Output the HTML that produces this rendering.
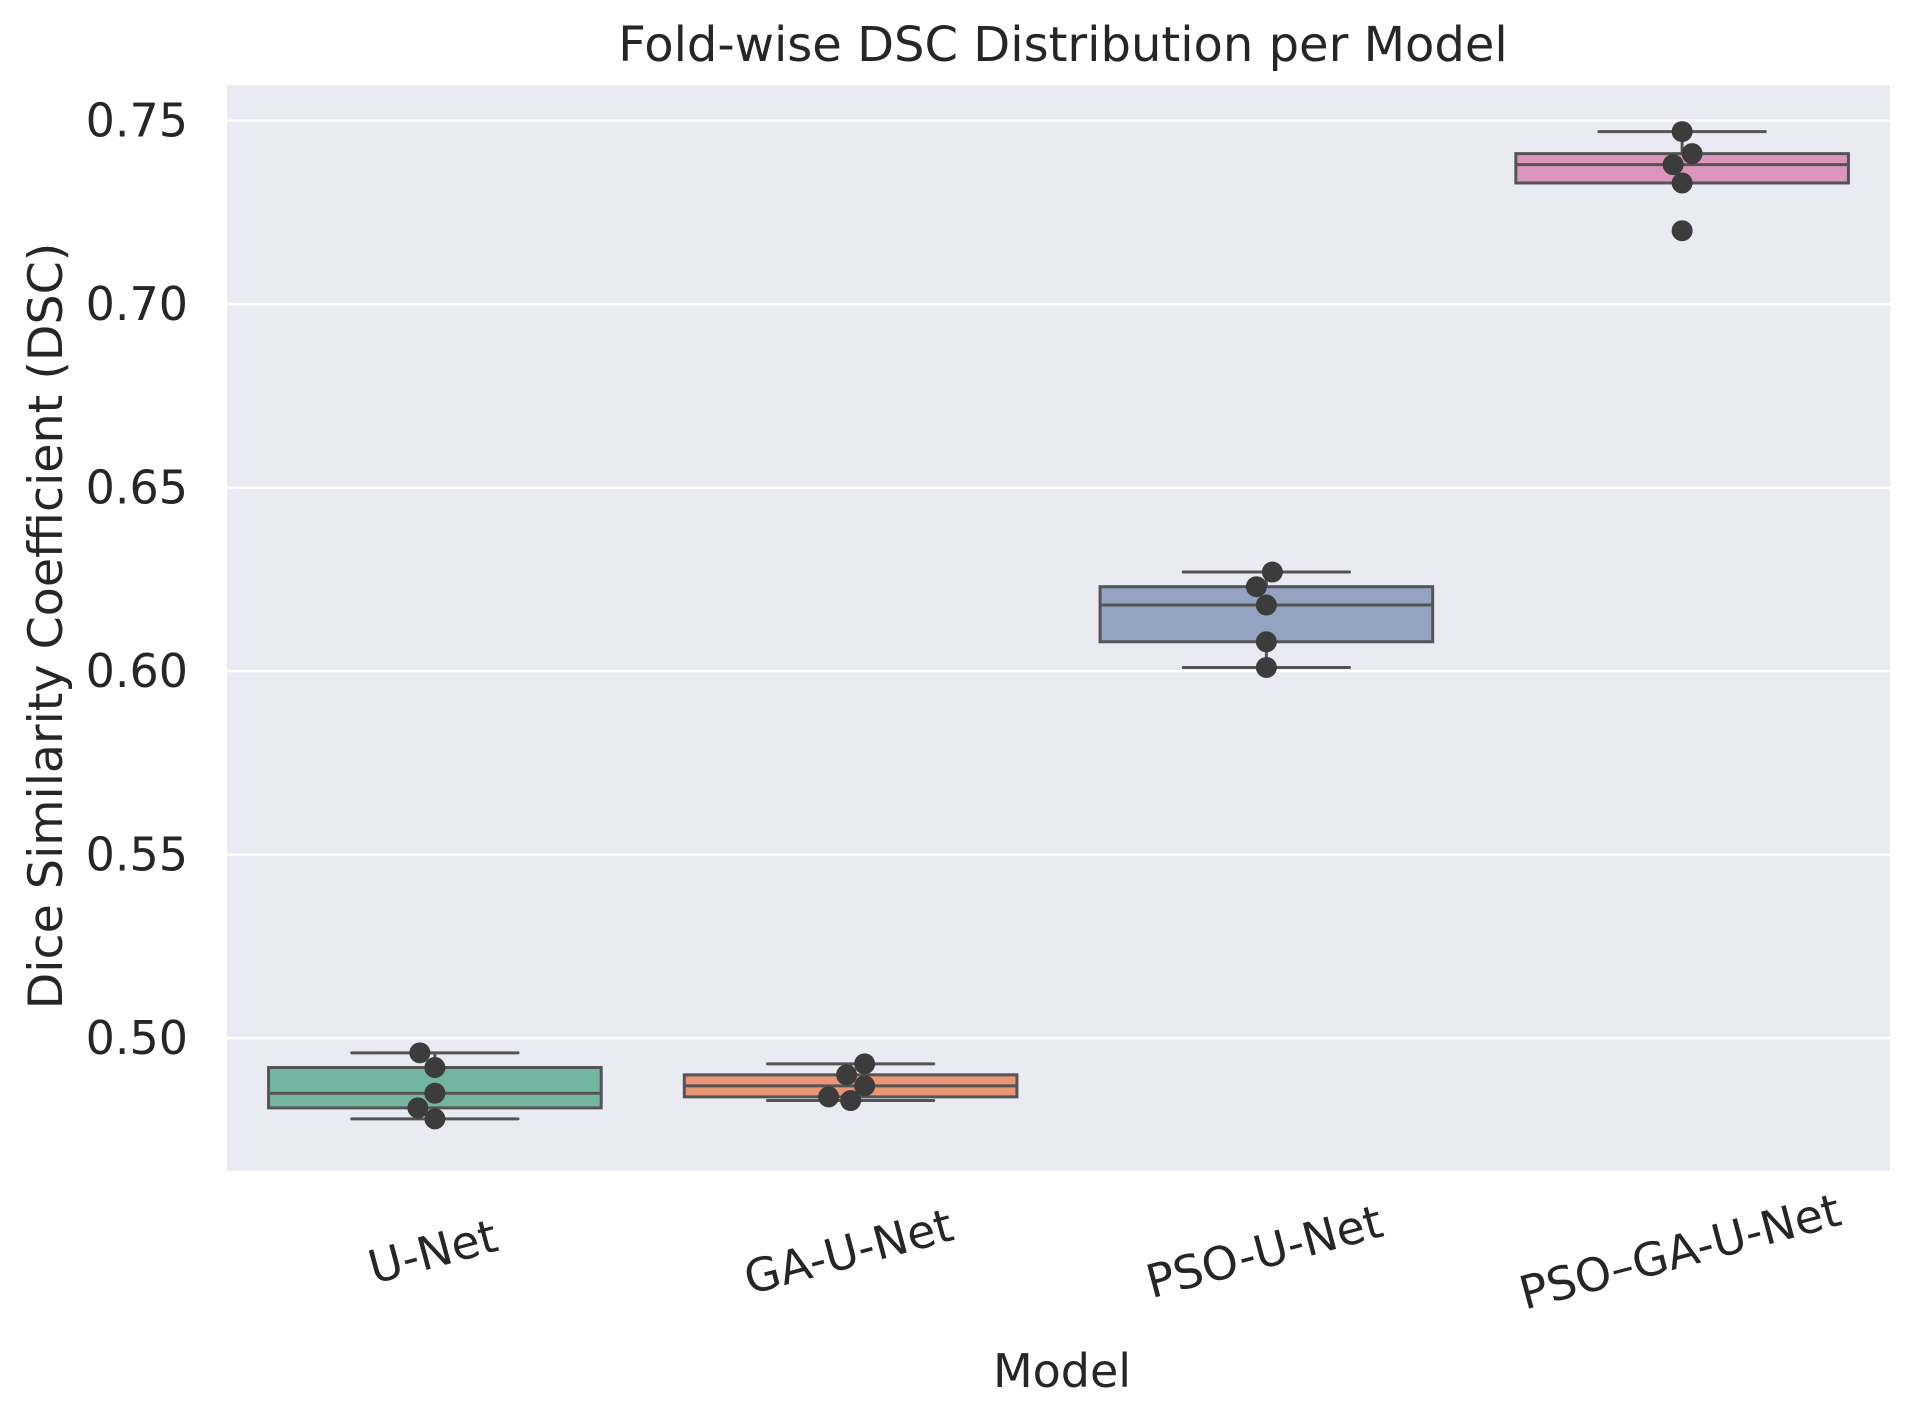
<!DOCTYPE html>
<html><head><meta charset="utf-8"><style>
html,body{margin:0;padding:0;background:#fff}
svg{display:block;font-family:"DejaVu Sans","Liberation Sans",sans-serif}
</style></head><body>
<svg id="chart" width="1916" height="1412" viewBox="0 0 1916 1412">
<rect x="227" y="85" width="1663" height="1086" fill="#eaeaf2"/>
<g id="grid"></g><g id="boxes"></g><g id="points"></g><g id="yticks"></g><g id="xticks"></g>
<text x="1063" y="61" text-anchor="middle" font-size="48" fill="#262626">Fold-wise DSC Distribution per Model</text>
<text x="1062" y="1387" text-anchor="middle" font-size="46" fill="#262626">Model</text>
<text transform="translate(62,626) rotate(-90)" text-anchor="middle" font-size="47.5" fill="#262626">Dice Similarity Coefficient (DSC)</text>
</svg>
<script>
const categories = ["U-Net","GA-U-Net","PSO-U-Net","PSO–GA-U-Net"];
const whiskerLow = [0.478,0.483,0.601,0.733];
const q1 = [0.481,0.484,0.608,0.733];
const medians = [0.485,0.487,0.618,0.738];
const q3 = [0.492,0.490,0.623,0.741];
const whiskerHigh = [0.496,0.493,0.627,0.747];
const foldScores = [
 [0.496,0.492,0.485,0.481,0.478],
 [0.493,0.490,0.487,0.484,0.483],
 [0.627,0.623,0.618,0.608,0.601],
 [0.747,0.741,0.738,0.733,0.720]
];
const jitter = [[-15,0,0,-17,0],[14,-4,14,-22,0],[6,-10,0,0,0],[0,10,-9,0,0]];
const yTicks = [0.50,0.55,0.60,0.65,0.70,0.75];
const colors = ["#72b6a1","#e99675","#95a3c3","#dc96be"];
const L=227,R=1890,T=85,B=1171,ymin=0.4638,ymax=0.7597;
const y=v=>B-(v-ymin)/(ymax-ymin)*(B-T);
const band=(R-L)/categories.length;
const xc=i=>L+band*(i+0.5);
const NS="http://www.w3.org/2000/svg";
function mk(tag,attrs,parent){const e=document.createElementNS(NS,tag);for(const k in attrs)e.setAttribute(k,attrs[k]);document.getElementById(parent).appendChild(e);return e;}
yTicks.forEach(t=>{
 const g=mk("line",{x1:L,x2:R,y1:y(t),y2:y(t),stroke:"#fff","stroke-width":2.5},"grid");
 
 
 const tx=mk("text",{x:L-39,y:y(t)+16,"text-anchor":"end","font-size":46,fill:"#262626"},"yticks");
 tx.textContent=t.toFixed(2);
 
 
});
categories.forEach((c,i)=>{
 const cx=xc(i),w=band*0.8,cw=w*0.5,st="#545454";
 const wl=mk("line",{x1:cx,x2:cx,y1:y(whiskerLow[i]),y2:y(q1[i]),stroke:st,"stroke-width":3},"boxes");
 
 
 const wh=mk("line",{x1:cx,x2:cx,y1:y(whiskerHigh[i]),y2:y(q3[i]),stroke:st,"stroke-width":3},"boxes");
 
 
 const c1=mk("line",{x1:cx-cw/2,x2:cx+cw/2,y1:y(whiskerLow[i]),y2:y(whiskerLow[i]),stroke:st,"stroke-width":3,"stroke-linecap":"round"},"boxes");
 
 
 const c2=mk("line",{x1:cx-cw/2,x2:cx+cw/2,y1:y(whiskerHigh[i]),y2:y(whiskerHigh[i]),stroke:st,"stroke-width":3,"stroke-linecap":"round"},"boxes");
 
 
 const bx=mk("rect",{x:cx-w/2,y:y(q3[i]),width:w,height:y(q1[i])-y(q3[i]),fill:colors[i],stroke:st,"stroke-width":3},"boxes");
 
 
 const md=mk("line",{x1:cx-w/2,x2:cx+w/2,y1:y(medians[i]),y2:y(medians[i]),stroke:st,"stroke-width":3},"boxes");
 
 
 foldScores[i].forEach((v,j)=>{
  const p=mk("circle",{cx:cx+jitter[i][j],cy:y(v),r:10.5,fill:"#3c3c3c"},"points");
  
  
 });
 const lx=mk("text",{x:0,y:0,"text-anchor":"middle","font-size":46,fill:"#262626",transform:`translate(${cx+2},${1267}) rotate(-15)`},"xticks");
 lx.textContent=c;
 
 
});
</script>
</body></html>
